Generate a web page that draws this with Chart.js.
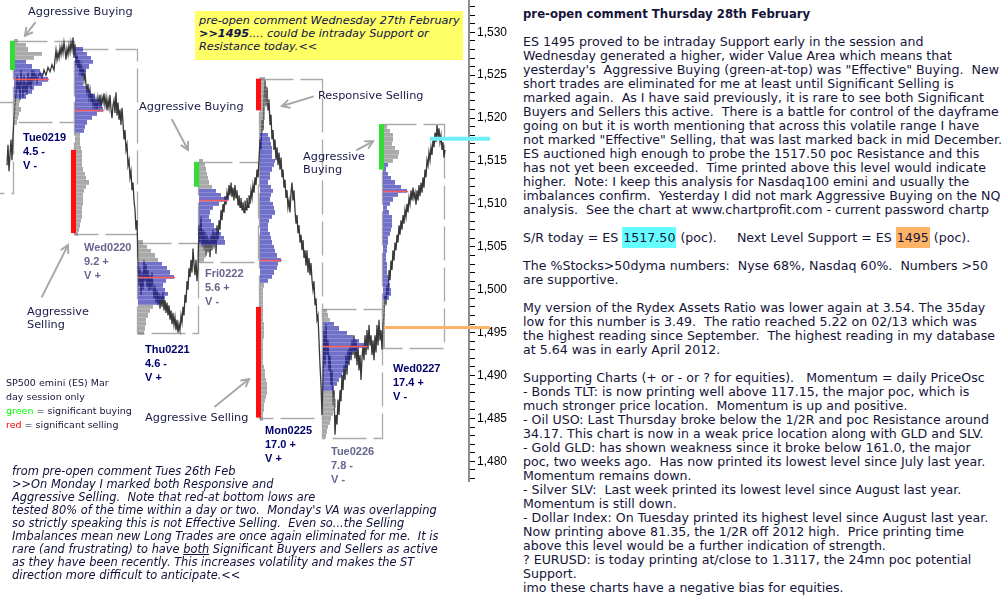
<!DOCTYPE html>
<html><head><meta charset="utf-8">
<script src="https://cdn.jsdelivr.net/npm/chart.js@4.4.1/dist/chart.umd.min.js"></script>
<style>
html,body{margin:0;padding:0;background:#fff;width:1004px;height:597px;overflow:hidden;position:relative;}
#wrap{position:absolute;left:0;top:0;width:520px;height:482px;}
.t{position:absolute;white-space:pre;font-family:"DejaVu Sans",Verdana,sans-serif;font-size:11px;line-height:14px;color:#15153a;}
.day{position:absolute;white-space:pre;font-family:"Liberation Sans",Arial,sans-serif;font-weight:bold;font-size:11px;line-height:14px;}
.it{font-style:italic;}
#yel{position:absolute;left:195px;top:11px;width:268px;height:49px;background:#ffff66;}
.cy{background:#66ffff;padding:3px 1px;}
.or{background:#ffb366;padding:3px 1px;}
</style></head><body>
<div id="wrap"><canvas id="c" width="520" height="482"></canvas></div>
<div id="yel"></div>
<div class="t it" style="left:199px;top:14px;line-height:13px;font-size:11.25px;color:#10104a;">pre-open comment Wednesday 27th February
<b>&gt;&gt;1495</b>.... could be intraday Support or
Resistance today.&lt;&lt;</div>
<div class="t" style="left:523px;top:7px;font-size:12.6px;"><b style="font-size:11.7px">pre-open comment Thursday 28th February</b>

ES 1495 proved to be intraday Support early in the session and
Wednesday generated a higher, wider Value Area which means that
yesterday's  Aggressive Buying (green-at-top) was "Effective" Buying.  New
short trades are eliminated for me at least until Significant Selling is
marked again.  As I have said previously, it is rare to see both Significant
Buyers and Sellers this active.  There is a battle for control of the dayframe
going on but it is worth mentioning that across this volatile range I have
not marked "Effective" Selling, that was last marked back in mid December.
ES auctioned high enough to probe the 1517.50 poc Resistance and this
has not yet been exceeded.  Time printed above this level would indicate
higher.  Note: I keep this analysis for Nasdaq100 emini and usually the
imbalances confirm.  Yesterday I did not mark Aggressive Buying on the NQ
analysis.  See the chart at www.chartprofit.com - current password chartp

S/R today = ES <span class="cy">1517.50</span> (poc).     Next Level Support = ES <span class="or">1495</span> (poc).

The %Stocks&gt;50dyma numbers:  Nyse 68%, Nasdaq 60%.  Numbers &gt;50
are supportive.

My version of the Rydex Assets Ratio was lower again at 3.54. The 35day
low for this number is 3.49.  The ratio reached 5.22 on 02/13 which was
the highest reading since September.  The highest reading in my database
at 5.64 was in early April 2012.

Supporting Charts (+ or - or ? for equities).   Momentum = daily PriceOsc
- Bonds TLT: is now printing well above 117.15, the major poc, which is
much stronger price location.  Momentum is up and positive.
- Oil USO: Last Thursday broke below the 1/2R and poc Resistance around
34.17. This chart is now in a weak price location along with GLD and SLV.
- Gold GLD: has shown weakness since it broke below 161.0, the major
poc, two weeks ago.  Has now printed its lowest level since July last year.
Momentum remains down.
- Silver SLV:  Last week printed its lowest level since August last year.
Momentum is still down.
- Dollar Index: On Tuesday printed its highest level since August last year.
Now printing above 81.35, the 1/2R off 2012 high.  Price printing time
above this level would be a further indication of strength.
? EURUSD: is today printing at/close to 1.3117, the 24mn poc potential
Support.
imo these charts have a negative bias for equities.</div>
<div class="t it" style="left:12px;top:465px;line-height:13px;font-size:11.4px;color:#10103a;">from pre-open comment Tues 26th Feb
&gt;&gt;On Monday I marked both Responsive and
Aggressive Selling.  Note that red-at bottom lows are
tested 80% of the time within a day or two.  Monday's VA was overlapping
so strictly speaking this is not Effective Selling.  Even so...the Selling
Imbalances mean new Long Trades are once again eliminated for me.  It is
rare (and frustrating) to have <u>both</u> Significant Buyers and Sellers as active
as they have been recently. This increases volatility and makes the ST
direction more difficult to anticipate.&lt;&lt;</div>
<div class="t" style="left:6px;top:376px;font-size:9.5px;color:#15153a;">SP500 emini (ES) Mar
day session only
<span style="color:#00ff00">green</span> = significant buying
<span style="color:#ff0000">red</span> = significant selling</div>
<div id="labels"></div>
<script>
// ---------------- data ----------------
const priceTime = [7,8,9,10,11,12,13,
14,15,16,17,18,19,20,21,22,23,24,25,26,27,28,29,30,31,32,33,34,35,36,37,38,40,42,44,46,48,50,52,54,55,56,57,58,59,60,61,62,63,64,65,66,67,68,69,70,71,72,73,74,
75,76,77,78,79,80,81,82,83,84,85,86,87,88,89,90,91,92,93,94,95,96,97,98,99,100,101,102,103,104,105,106,107,108,109,110,111,112,113,114,115,116,117,118,119,120,121,122,123,124,125,126,127,128,129,130,131,132,133,134,135,136,137,
138,139,140,141,142,143,144,145,146,147,148,149,150,151,152,153,154,155,156,157,158,159,160,161,162,163,164,165,166,167,168,169,170,171,172,173,174,175,176,177,178,179,180,181,182,183,184,185,186,187,188,189,190,191,192,193,194,195,196,197,198,
199,200,201,202,203,204,205,206,207,208,209,210,211,212,213,214,215,216,217,218,219,220,221,222,223,224,225,226,227,228,229,230,231,232,233,234,235,236,237,238,239,240,241,242,243,244,245,246,247,248,249,250,251,252,253,254,255,256,257,258,
259,260,261,262,263,264,265,266,267,268,269,270,271,272,273,274,275,276,277,278,279,280,281,282,283,284,285,286,287,288,289,290,291,292,293,294,295,296,297,298,299,300,301,302,303,304,305,306,307,308,309,310,311,312,313,314,315,316,317,318,319,320,321,322,
323,324,325,326,327,328,329,330,331,332,333,334,335,336,337,338,339,340,341,342,343,344,345,346,347,348,349,350,351,352,353,354,355,356,357,358,359,360,361,362,363,364,365,366,367,368,369,370,371,372,373,374,375,376,377,378,379,380,381,382,
383,384,385,386,387,388,389,390,391,392,393,394,395,396,397,398,399,400,401,402,403,404,405,406,407,408,409,410,411,412,413,414,415,416,417,418,419,420,421,422,423,424,425,426,427,428,429,430,431,432,433,434,435,436,437,438,439,440,441,442,443,444,445];
const priceValue = [1514.5,1516.9,1513.8,1515.7,1517.5,1515.1,1518.0,
1519.8,1521.5,1522.7,1525.0,1523.3,1524.4,1522.1,1525.6,1523.9,1522.4,1525.0,1523.0,1524.0,1522.7,1525.3,1523.6,1524.8,1523.3,1525.6,1524.4,1525.3,1524.6,1525.0,1524.2,1524.8,1525.3,1524.6,1525.6,1525.0,1525.9,1525.4,1526.2,1525.6,1526.8,1527.9,1526.8,1527.6,1527.0,1528.2,1527.4,1528.4,1527.6,1528.8,1527.9,1526.8,1528.1,1527.4,1528.5,1527.7,1528.8,1528.0,1529.4,1527.0,
1528.6,1526.2,1527.4,1525.8,1526.8,1525.3,1526.2,1524.8,1525.9,1524.4,1525.3,1523.9,1523.0,1524.0,1522.4,1523.3,1521.8,1522.9,1521.5,1522.4,1521.2,1522.1,1521.0,1522.4,1521.5,1522.7,1521.2,1522.4,1521.8,1522.9,1521.5,1522.4,1520.9,1522.1,1521.2,1522.7,1521.0,1520.0,1521.5,1522.1,1520.6,1523.0,1520.3,1521.8,1519.8,1521.0,1519.2,1521.2,1519.5,1517.5,1518.6,1516.3,1516.9,1514.5,1515.1,1513.1,1513.8,1511.6,1512.5,1510.4,1509.3,1507.0,1508.1,
1503.1,1500.5,1502.5,1499.4,1502.0,1500.0,1503.5,1501.0,1503.0,1500.3,1502.3,1499.9,1501.7,1500.0,1502.0,1500.3,1499.0,1500.5,1498.5,1500.0,1498.2,1499.6,1497.8,1499.4,1498.0,1499.7,1497.6,1498.8,1497.3,1498.5,1497.0,1498.2,1496.5,1497.6,1496.0,1497.3,1495.9,1496.8,1495.3,1496.5,1495.0,1496.0,1495.3,1497.0,1496.2,1498.0,1497.0,1499.4,1498.5,1501.0,1500.0,1502.5,1501.5,1503.5,1502.0,1504.8,1503.0,1501.7,1503.5,1501.0,1502.5,
1507.5,1505.5,1508.5,1505.0,1507.0,1504.6,1506.8,1504.0,1506.4,1504.4,1506.0,1503.8,1506.4,1504.6,1507.0,1505.0,1506.7,1504.2,1507.5,1505.8,1508.1,1507.0,1509.3,1508.1,1510.0,1509.0,1510.9,1509.9,1511.3,1510.4,1512.2,1511.0,1512.5,1510.8,1511.9,1510.4,1512.2,1510.7,1511.6,1509.9,1511.0,1509.6,1510.7,1509.3,1510.2,1509.0,1510.4,1509.3,1510.7,1509.6,1511.0,1510.0,1511.6,1510.7,1512.2,1511.3,1513.1,1512.2,1514.0,1513.1,
1515.1,1517.5,1516.3,1519.8,1518.6,1522.1,1524.4,1521.5,1523.6,1520.9,1522.1,1519.2,1520.4,1517.5,1518.6,1516.3,1517.5,1515.1,1516.6,1514.5,1516.0,1514.0,1515.4,1513.1,1514.0,1511.9,1512.8,1510.7,1511.6,1509.6,1510.4,1509.0,1511.3,1512.5,1510.4,1511.6,1509.3,1507.7,1508.7,1506.6,1507.5,1505.5,1506.4,1504.6,1505.8,1503.7,1504.6,1502.8,1504.6,1502.0,1503.7,1501.7,1503.1,1501.1,1500.0,1501.0,1498.2,1499.0,1496.5,1497.0,1494.1,1491.2,1488.9,1485.4,
1489.5,1495.3,1491.2,1496.0,1492.4,1494.1,1490.6,1492.4,1488.9,1490.6,1486.6,1488.3,1483.1,1485.4,1484.3,1487.2,1485.4,1488.3,1487.0,1490.1,1488.3,1491.2,1489.5,1492.4,1490.1,1493.0,1491.2,1493.5,1491.8,1494.1,1492.4,1494.7,1492.0,1494.1,1491.2,1493.5,1490.6,1492.4,1489.5,1492.0,1493.5,1491.8,1494.7,1492.4,1495.3,1493.0,1495.9,1493.5,1494.7,1492.4,1494.1,1491.8,1494.7,1492.7,1495.9,1493.5,1496.5,1494.1,1495.3,1493.0,
1495.9,1497.0,1499.4,1498.2,1500.5,1499.4,1502.3,1501.1,1503.4,1502.3,1504.6,1503.4,1505.5,1504.6,1506.4,1505.5,1507.5,1506.4,1508.1,1507.0,1508.7,1507.7,1509.3,1508.5,1510.0,1509.0,1510.7,1510.0,1511.6,1510.4,1511.9,1510.7,1511.3,1509.9,1511.6,1510.4,1512.2,1510.9,1512.5,1511.3,1513.1,1511.9,1514.0,1513.1,1515.1,1514.5,1516.0,1515.1,1516.6,1515.7,1517.5,1516.6,1518.3,1517.2,1519.2,1517.8,1518.8,1517.2,1518.0,1516.3,1517.2,1515.4,1516.3];

// day range boxes
const dayNames = ['Fri0215','Tue0219','Wed0220','Thu0221','Fri0222','Mon0225','Tue0226','Wed0227'];
const dayStart = [-10,13,74,137,198,259,322,382];
const dayEnd   = [13,74,137,198,258,322,382,444];
const dayHigh  = [1521.9,1529.0,1528.1,1505.5,1514.9,1524.6,1497.7,1519.3];
const dayLow   = [1511.3,1519.5,1506.5,1495.0,1503.2,1485.1,1482.7,1493.2];
const dayRange = ['','4.5 -','9.2 +','4.6 -','5.6 +','17.0 +','7.8 -','17.4 +'];
const dayVA    = ['','V -','V +','V +','V -','V +','V -','V -'];

// market profiles (width per 0.5 pt row from profileTop downwards)
const profileTop  = [null,1529.0,1528.0,1505.5,1515.0,1524.5,1497.5,1519.0];
const profileVAH  = [null,1526.5,1528.0,1503.0,1511.5,1518.0,1496.0,1514.5];
const profileVAL  = [null,1522.5,1518.5,1498.5,1505.5,1501.0,1488.5,1499.0];
const profilePOC  = [null,1524.5,1521.0,1501.5,1510.5,1503.5,1493.5,1511.5];
const profTue0219 = [4,12,14,28,20,12,18,26,29,34,28,20,18,12,6,5,7,5,4,3];
const profWed0220 = [8,12,16,18,14,11,9,8,8,12,15,20,24,27,28,22,17,12,10,9,5,5,5,6,7,7,7,7,8,10,11,14,11,9,8,8,8,7,7,7,6,5,4,3];
const profThu0221 = [5,9,13,17,20,24,29,32,36,28,25,27,30,27,22,15,12,10,8,8,7,6];
const profFri0222 = [4,6,7,8,9,10,13,17,22,28,20,14,11,10,12,15,18,22,25,26,17,11,7,5];
const profMon0225 = [5,6,7,7,8,10,7,5,5,5,4,3,3,8,10,11,12,12,12,15,14,12,10,10,8,11,13,11,10,13,14,15,12,9,8,8,10,11,12,14,15,17,21,18,17,14,12,8,4,3,3,3,3,3,3,3,3,4,4,4,4,3,3,3,3,3,3,4,5,5,6,7,7,7,6,5,4,4,3,3];
const profTue0226 = [4,5,7,11,16,24,30,36,43,34,29,27,25,24,21,19,16,14,11,10,11,13,13,12,10,8,7,5,4,3];
const profWed0227 = [4,7,10,10,9,12,16,15,10,5,3,5,8,12,18,24,15,10,7,4,6,9,9,9,8,7,5,5,4,4,3,3,4,4,4,5,6,7,8,8,6,4,2,2,2,2,2,2,2,2,2,2];
const profiles = [null,profTue0219,profWed0220,profThu0221,profFri0222,profMon0225,profTue0226,profWed0227];

// significant buying / selling markers
const sigTime  = [12.5,73,196,258.5,258.5,381.5];
const sigHigh  = [1529.0,1516.3,1514.9,1524.6,1498.0,1519.3];
const sigLow   = [1525.6,1506.6,1512.0,1520.9,1485.1,1514.0];
const sigType  = ['buy','sell','buy','sell','sell','buy'];

// key levels
const levelPrice = [1517.6,1495.6];
const levelFrom  = [430,384];
const levelTo    = [490,490];
const levelName  = ['S/R','Support'];

// annotation arrows (time, price)
const arrowFromT = [35,172,313,357,42,215];
const arrowFromP = [1531.1,1519.8,1522.5,1516.3,1499.2,1486.4];
const arrowToT   = [25,188,282,373,68,249];
const arrowToP   = [1529.6,1516.3,1521.4,1517.3,1505.2,1489.6];

// ---------------- styles / layout ----------------
const STYLE = {
  box:'#aaaaaa', line:'#383838', gray:'rgba(118,118,118,0.62)', blue:'rgba(40,40,175,0.66)',
  sep:'rgba(255,255,255,0.2)',
  poc:'#ff5a5a', buy:'#33dd33', sell:'#ff1010', arrow:'#a8a8a8',
  level:{'S/R':'#6ef0f6','Support':'#ffb366'}
};
const labelPos = [null,[23,130],[84,240],[145,342],[205,266],[265,423],[331,444],[393,361]];
const labelColor = [null,'#00006b','#66668f','#00006b','#66668f','#00006b','#66668f','#00006b'];
const notes = [
  ['Aggressive Buying',28,5],
  ['Aggressive Buying',139,100],
  ['Responsive Selling',318,89],
  ['Aggressive\nBuying',303,150],
  ['Aggressive\nSelling',27,305],
  ['Aggressive Selling',145,411]
];

const lab = document.getElementById('labels');
for (let i=1;i<dayNames.length;i++){
  const d=document.createElement('div'); d.className='day';
  d.style.left=labelPos[i][0]+'px'; d.style.top=labelPos[i][1]+'px'; d.style.color=labelColor[i];
  d.textContent=dayNames[i]+'\n'+dayRange[i]+'\n'+dayVA[i];
  lab.appendChild(d);
}
for (const n of notes){
  const d=document.createElement('div'); d.className='t';
  d.style.left=n[1]+'px'; d.style.top=n[2]+'px'; d.style.lineHeight='13px'; d.style.fontSize='11.3px'; d.style.color='#1a1a48';
  d.textContent=n[0]; lab.appendChild(d);
}

// ---------------- drawing plugin ----------------
function arrow(ctx,x1,y1,x2,y2){
  ctx.beginPath(); ctx.moveTo(x1,y1); ctx.lineTo(x2,y2); ctx.stroke();
  const a=Math.atan2(y2-y1,x2-x1), L=8, s=0.5;
  ctx.beginPath();
  ctx.moveTo(x2-L*Math.cos(a-s), y2-L*Math.sin(a-s));
  ctx.lineTo(x2,y2);
  ctx.lineTo(x2-L*Math.cos(a+s), y2-L*Math.sin(a+s));
  ctx.stroke();
}
const overlay = {
  id:'overlay',
  beforeDatasetsDraw(chart){
    const ctx=chart.ctx, x=chart.scales.x, y=chart.scales.y;
    ctx.save();
    ctx.strokeStyle=STYLE.box; ctx.lineWidth=1.3; ctx.setLineDash([34,7]);
    for (let i=0;i<dayNames.length;i++){
      const x0=Math.round(x.getPixelForValue(dayStart[i]))+0.5, x1=Math.round(x.getPixelForValue(dayEnd[i]))+0.5;
      const y0=Math.round(y.getPixelForValue(dayHigh[i]))+0.5, y1=Math.round(y.getPixelForValue(dayLow[i]))+0.5;
      ctx.strokeRect(x0,y0,x1-x0,y1-y0);
    }
    ctx.restore();
  },
  afterDatasetsDraw(chart){
    const ctx=chart.ctx, x=chart.scales.x, y=chart.scales.y;
    ctx.save();
    for (let i=1;i<dayNames.length;i++){
      const prof=profiles[i]; const x0=Math.round(x.getPixelForValue(dayStart[i]))+1;
      for (let r=0;r<prof.length;r++){
        const p=profileTop[i]-0.5*r;
        const yt=Math.round(y.getPixelForValue(p+0.25)), yb=Math.round(y.getPixelForValue(p-0.25));
        const w=Math.round(x.getPixelForValue(dayStart[i]+prof[r])-x.getPixelForValue(dayStart[i]));
        ctx.fillStyle=(p<=profileVAH[i]+1e-6 && p>=profileVAL[i]-1e-6)?STYLE.blue:STYLE.gray;
        ctx.fillRect(x0,yt,w,yb-yt);
        ctx.fillStyle=STYLE.sep;
        ctx.fillRect(x0,yb-1,w,1);
      }
      const ri=Math.round((profileTop[i]-profilePOC[i])/0.5);
      const yp=Math.round(y.getPixelForValue(profilePOC[i]))+0.5;
      ctx.strokeStyle=STYLE.poc; ctx.lineWidth=1.4;
      ctx.beginPath(); ctx.moveTo(x0,yp); ctx.lineTo(x.getPixelForValue(dayStart[i]+prof[ri]+2),yp); ctx.stroke();
    }
    for (let k=0;k<sigTime.length;k++){
      const xc=x.getPixelForValue(sigTime[k]);
      const yt=y.getPixelForValue(sigHigh[k]), yb=y.getPixelForValue(sigLow[k]);
      ctx.fillStyle=sigType[k]==='buy'?STYLE.buy:STYLE.sell;
      ctx.fillRect(Math.round(xc-2.5),yt,5,yb-yt);
    }
    ctx.strokeStyle=STYLE.arrow; ctx.lineWidth=2; ctx.lineCap='round';
    for (let k=0;k<arrowFromT.length;k++){
      arrow(ctx,x.getPixelForValue(arrowFromT[k]),y.getPixelForValue(arrowFromP[k]),x.getPixelForValue(arrowToT[k]),y.getPixelForValue(arrowToP[k]));
    }
    ctx.restore();
  },
  afterDraw(chart){
    const ctx=chart.ctx, x=chart.scales.x, y=chart.scales.y;
    ctx.save();
    for (let k=0;k<levelPrice.length;k++){
      const yl=y.getPixelForValue(levelPrice[k]);
      ctx.strokeStyle=STYLE.level[levelName[k]]; ctx.lineWidth=k===0?4:3;
      ctx.beginPath(); ctx.moveTo(x.getPixelForValue(levelFrom[k]),yl); ctx.lineTo(x.getPixelForValue(levelTo[k]),yl); ctx.stroke();
    }
    ctx.restore();
  }
};

new Chart(document.getElementById('c'), {
  type:'line',
  data:{ datasets:[{ data: priceTime.map((t,i)=>({x:t,y:priceValue[i]})), borderColor:STYLE.line, borderWidth:1.3, pointRadius:0, tension:0, fill:false }]},
  options:{
    responsive:false, animation:false, events:[], devicePixelRatio:1,
    layout:{padding:0},
    plugins:{legend:{display:false}, tooltip:{enabled:false}},
    scales:{
      x:{type:'linear', display:false, min:0, max:469},
      y:{position:'right', min:1477.6, max:1533.76,
        ticks:{stepSize:1, autoSkip:false, includeBounds:false, padding:2, color:'#000',
          font:{family:'"Liberation Sans", Arial, sans-serif', size:12},
          callback:v => (Math.round(v)%5===0 ? Math.round(v).toLocaleString('en-US') : '')},
        grid:{drawOnChartArea:false, drawTicks:true, tickLength:6, tickColor:'#000', tickWidth:1},
        border:{display:true, color:'#8c8c8c', width:2},
        afterFit(s){ s.width=51; s.paddingTop=0; s.paddingBottom=0; }
      }
    }
  },
  plugins:[overlay]
});
</script>
</body></html>
